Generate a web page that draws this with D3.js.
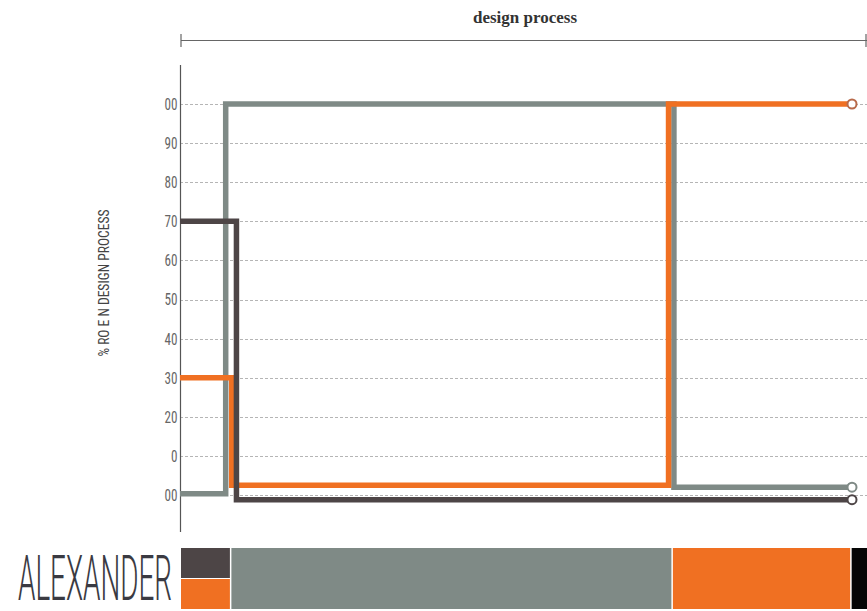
<!DOCTYPE html>
<html>
<head>
<meta charset="utf-8">
<script src="https://cdn.jsdelivr.net/npm/d3@7"></script>
<style>
  html, body { margin: 0; padding: 0; background: #fff; }
  svg { display: block; }
</style>
</head>
<body>
<svg id="chart" width="867" height="611"></svg>
<script>
// ---- data ----
const tickValues = [100, 90, 80, 70, 60, 50, 40, 30, 20, 10, 0];
const tickLabels = ["00", "90", "80", "70", "60", "50", "40", "30", "20", "0", "00"];

// step series: position along the process (0-100) and share in %
const grayX   = [0, 6.8, 73.5, 100];
const grayY   = [0.3, 100, 2, 2];
const orangeX = [0, 7.7, 72.7, 100];
const orangeY = [30, 2.5, 100, 100];
const darkX   = [0, 8.4, 100];
const darkY   = [70, -1.2, -1.2];

// phase strip along the bottom
const phaseBreaks = [0, 7.5, 73.2, 99.8, 103];
const phaseColors = ["split", "#7f8a86", "#f07022", "#050505"];

const title = "design process";
const yTitle = "% RO E N DESIGN PROCESS";
const name = "ALEXANDER";

// ---- drawing ----
const svg = d3.select("#chart");
const x = d3.scaleLinear().domain([0, 100]).range([180, 852]);
const y = d3.scaleLinear().domain([0, 100]).range([495, 104]);

const narrow = "'Liberation Sans Narrow', 'Roboto Condensed', 'DejaVu Sans Condensed', 'Roboto', sans-serif";

// title and bracket
svg.append("text")
  .attr("x", 525).attr("y", 23)
  .attr("text-anchor", "middle")
  .attr("font-family", "'Liberation Serif', 'DejaVu Serif', serif")
  .attr("font-weight", "bold")
  .attr("font-size", 16)
  .attr("fill", "#333")
  .attr("textLength", 104)
  .attr("lengthAdjust", "spacingAndGlyphs")
  .text(title);

const bracket = svg.append("g").attr("stroke", "#666").attr("stroke-width", 1.2);
bracket.append("line").attr("x1", x(0) + 1).attr("x2", 867).attr("y1", 40.5).attr("y2", 40.5);
bracket.append("line").attr("x1", x(0) + 1).attr("x2", x(0) + 1).attr("y1", 34).attr("y2", 47);
bracket.append("line").attr("x1", 866).attr("x2", 866).attr("y1", 34).attr("y2", 47);

// grid
svg.append("g")
  .selectAll("line")
  .data(tickValues)
  .join("line")
  .attr("x1", x(0)).attr("x2", 867)
  .attr("y1", d => Math.round(y(d)) + 0.5)
  .attr("y2", d => Math.round(y(d)) + 0.5)
  .attr("stroke", "#b5b5b5")
  .attr("stroke-width", 1)
  .attr("stroke-dasharray", "3,2");

// y axis
const yAxis = d3.axisLeft(y)
  .tickValues(tickValues)
  .tickFormat((d, i) => tickLabels[i])
  .tickSize(0)
  .tickPadding(3);
const ga = svg.append("g").attr("transform", `translate(${x(0) + 0.5},0)`).call(yAxis);
ga.select(".domain").remove();
ga.selectAll("text")
  .attr("font-family", narrow)
  .attr("font-size", 17)
  .attr("fill", "#666")
  .attr("textLength", (d, i) => tickLabels[i].length * 6.5)
  .attr("lengthAdjust", "spacingAndGlyphs");
svg.append("line")
  .attr("x1", x(0) + 0.5).attr("x2", x(0) + 0.5)
  .attr("y1", 65).attr("y2", 532)
  .attr("stroke", "#555").attr("stroke-width", 1.2);

svg.append("text")
  .attr("transform", "translate(109,283) rotate(-90)")
  .attr("text-anchor", "middle")
  .attr("font-family", narrow)
  .attr("font-size", 15)
  .attr("fill", "#444")
  .attr("textLength", 147)
  .attr("lengthAdjust", "spacingAndGlyphs")
  .text(yTitle);

// step lines
const line = d3.line()
  .x(d => x(d[0]))
  .y(d => y(d[1]))
  .curve(d3.curveStepAfter);

const series = [
  { xs: grayX, ys: grayY, color: "#7f8a86", ring: "#7f8a86" },
  { xs: orangeX, ys: orangeY, color: "#f07022", ring: "#b86a4a" },
  { xs: darkX, ys: darkY, color: "#4d4546", ring: "#4d4546" }
];

series.forEach(s => {
  const pts = s.xs.map((v, i) => [v, s.ys[i]]);
  svg.append("path")
    .attr("d", line(pts))
    .attr("fill", "none")
    .attr("stroke", s.color)
    .attr("stroke-width", 5.5)
    .attr("stroke-linejoin", "miter");
});

series.forEach(s => {
  const n = s.xs.length - 1;
  svg.append("circle")
    .attr("cx", x(s.xs[n]))
    .attr("cy", y(s.ys[n]))
    .attr("r", 4.5)
    .attr("fill", "#fff")
    .attr("stroke", s.ring)
    .attr("stroke-width", 2);
});

// phase strip
const stripTop = 548, stripBottom = 609;
phaseColors.forEach((c, i) => {
  const x0 = x(phaseBreaks[i]) + 1;
  const x1 = x(phaseBreaks[i + 1]) - 0.5;
  if (c === "split") {
    const mid = (stripTop + stripBottom) / 2;
    svg.append("rect").attr("x", x0).attr("y", stripTop)
      .attr("width", x1 - x0).attr("height", mid - stripTop - 0.5).attr("fill", "#4d4546");
    svg.append("rect").attr("x", x0).attr("y", mid + 0.5)
      .attr("width", x1 - x0).attr("height", stripBottom - mid - 0.5).attr("fill", "#f07022");
  } else {
    svg.append("rect").attr("x", x0).attr("y", stripTop)
      .attr("width", x1 - x0).attr("height", stripBottom - stripTop).attr("fill", c);
  }
});

svg.append("text")
  .attr("x", 18).attr("y", 600)
  .attr("font-family", "'Roboto', 'Open Sans', sans-serif")
  .attr("font-size", 63)
  .attr("font-weight", 300)
  .attr("fill", "#3a3a42")
  .attr("textLength", 154)
  .attr("lengthAdjust", "spacingAndGlyphs")
  .text(name);
</script>
</body>
</html>
